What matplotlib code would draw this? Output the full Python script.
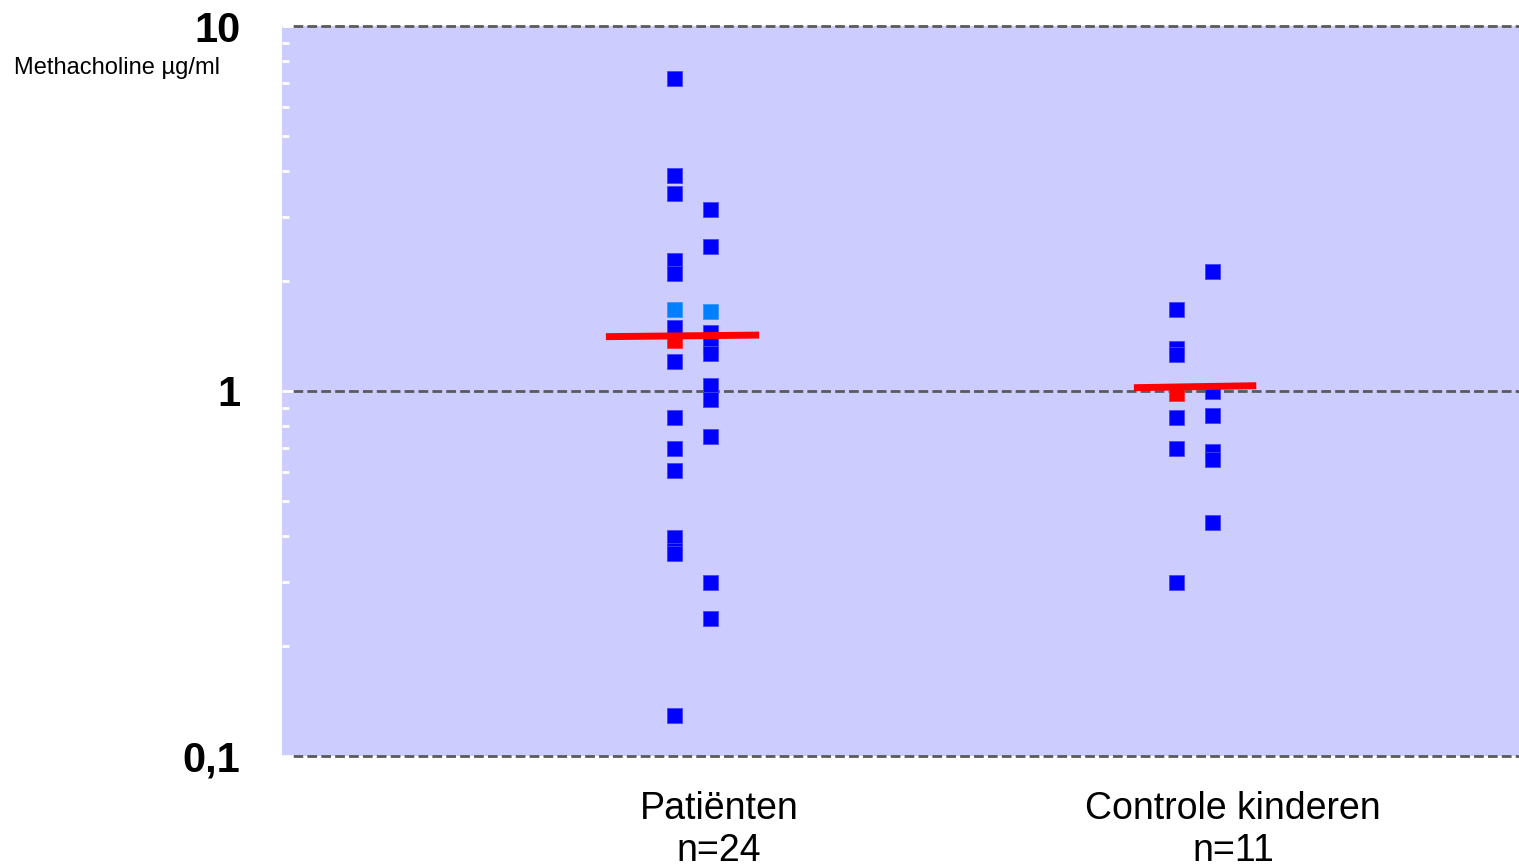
import matplotlib
matplotlib.use("Agg")
import matplotlib.pyplot as plt
from matplotlib.ticker import FixedLocator, NullFormatter

plt.rcParams["font.family"] = ["Liberation Sans", "DejaVu Sans"]

# group labels (x = 0 for patients, 1 for controls)
groups = ["Patiënten\nn=24", "Controle kinderen\nn=11"]
group_x = [0.0, 1.0]

# patients: two jittered columns
pat_col1_x = -0.0875
pat_col1 = [7.19, 3.90, 3.49, 2.285, 2.10, 1.50, 1.21, 0.849, 0.699, 0.609,
            0.398, 0.367, 0.359, 0.1295]
pat_col2_x = -0.0175
pat_col2 = [3.15, 2.49, 1.45, 1.34, 1.27, 1.039, 0.948, 0.754, 0.30, 0.239]
pat_light = [1.677, 1.656]
pat_red = 1.38
pat_median = [1.409, 1.423]
pat_median_x = [-0.22, 0.078]

# controls
ctl_col1_x = 0.889
ctl_col1 = [1.677, 1.311, 1.263, 0.85, 0.699, 0.30]
ctl_col2_x = 0.959
ctl_col2 = [2.136, 1.0, 0.86, 0.687, 0.651, 0.438]
ctl_red = 0.99
ctl_median = [1.021, 1.034]
ctl_median_x = [0.807, 1.045]

W, H = 1519, 868
fig = plt.figure(figsize=(W / 100, H / 100), dpi=100)
ax = fig.add_axes([282 / W, 1 - 756 / H, 1 - 282 / W, (756 - 26) / H])
ax.set_facecolor("#CCCCFF")
for s in ax.spines.values():
    s.set_visible(False)

ax.set_yscale("log")
ax.set_ylim(0.1, 10)
ax.set_xlim(-0.85, 1.556)

for v in [0.1, 1, 10]:
    ax.axhline(v, xmin=0.009, xmax=1, color="#5a5a5a", lw=2, ls=(0, (3.5, 1.5)),
               clip_on=False, zorder=1)

mk = dict(marker="s", ls="none", ms=10.8, mec="#4444ff", mew=0.6, zorder=3)
ax.plot([pat_col1_x] * len(pat_col1), pat_col1, color="#0000FF", **mk)
ax.plot([pat_col2_x] * len(pat_col2), pat_col2, color="#0000FF", **mk)
ax.plot([pat_col1_x, pat_col2_x], pat_light, color="#0080FF",
        marker="s", ls="none", ms=10.8, mec="#3399ff", mew=0.6, zorder=3)
ax.plot([ctl_col1_x] * len(ctl_col1), ctl_col1, color="#0000FF", **mk)
ax.plot([ctl_col2_x] * len(ctl_col2), ctl_col2, color="#0000FF", **mk)
ax.plot([pat_col1_x, ctl_col1_x], [pat_red, ctl_red], color="#FF0000",
        marker="s", ls="none", ms=10.8, mec="#ff3333", mew=0.6, zorder=4)

ax.plot(pat_median_x, pat_median, color="#FF0000", lw=5, solid_capstyle="butt", zorder=5)
ax.plot(ctl_median_x, ctl_median, color="#FF0000", lw=5, solid_capstyle="butt", zorder=5)

ax.set_xticks([])
ax.yaxis.set_major_locator(FixedLocator([0.1, 1, 10]))
ax.set_yticklabels(["0,1", "1", "10"], fontsize=30, fontweight="bold")
ax.yaxis.set_minor_locator(FixedLocator([m * d for d in [0.1, 1] for m in range(2, 10)]))
ax.yaxis.set_minor_formatter(NullFormatter())
ax.tick_params(axis="y", which="major", direction="in", length=8, width=2,
               color="white", pad=30)
ax.tick_params(axis="y", which="minor", direction="in", length=5, width=2,
               color="white")

fig.text(14 / W, 1 - 68 / H, "Methacholine µg/ml", fontsize=17, ha="left", va="center")

for gx, label in zip(group_x, groups):
    name, n = label.split("\n")
    ax.text(gx, -0.073, name, transform=ax.get_xaxis_transform(), fontsize=27,
            ha="center", va="center", clip_on=False)
    ax.text(gx, -0.13, n, transform=ax.get_xaxis_transform(), fontsize=27,
            ha="center", va="center", clip_on=False)

fig.savefig("out.png", dpi=100)
